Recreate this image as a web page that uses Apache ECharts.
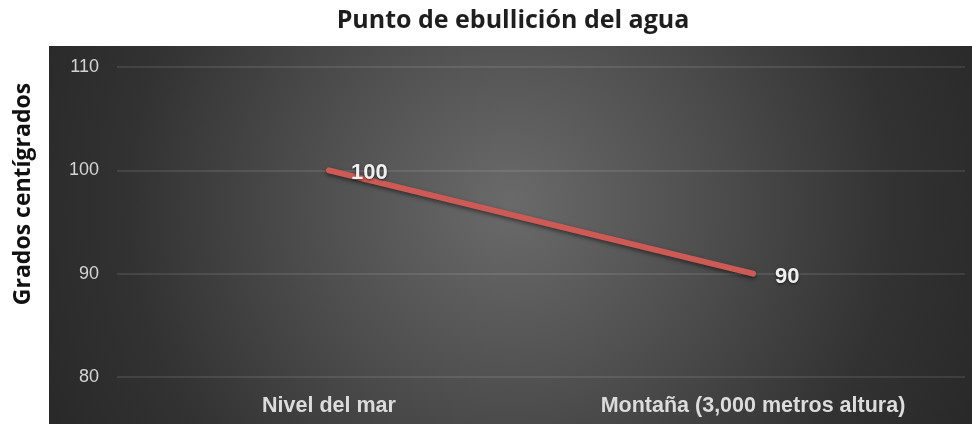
<!DOCTYPE html>
<html>
<head>
<meta charset="utf-8">
<script src="https://cdn.jsdelivr.net/npm/echarts@6/dist/echarts.min.js"></script>
<style>html,body{margin:0;padding:0;background:#fff;}#c{width:972px;height:424px;}</style>
</head>
<body>
<div id="c"></div>
<script>
const categories = ['Nivel del mar', 'Montaña (3,000 metros altura)'];
const boilingPoint = [100, 90];
const yTicks = [80, 90, 100, 110];
const chartTitle = 'Punto de ebullición del agua';
const yAxisTitle = 'Grados centígrados';

const chart = echarts.init(document.getElementById('c'), null, {renderer: 'canvas'});
chart.setOption({
  animation: false,
  backgroundColor: '#ffffff',
  title: {
    text: chartTitle,
    left: 508, top: 3, textAlign: 'center',
    textStyle: {fontFamily: 'Open Sans', fontWeight: 'bold', fontSize: 25, color: '#1e1e1e'}
  },
  graphic: [
    {
      type: 'rect', z: -10, silent: true,
      shape: {x: 49, y: 46, width: 923, height: 378},
      style: {
        fill: new echarts.graphic.RadialGradient(0.5, 0.42, 1.45, [
          {offset: 0, color: '#6a6a6a'},
          {offset: 0.35, color: '#4f4f4f'},
          {offset: 0.7, color: '#323232'},
          {offset: 1, color: '#262626'}
        ])
      }
    },
    {
      type: 'text', silent: true,
      x: 23, y: 194, rotation: Math.PI / 2,
      style: {
        text: yAxisTitle, fill: '#111',
        font: 'bold 23px "Open Sans"',
        align: 'center', verticalAlign: 'middle'
      }
    }
  ],
  grid: {left: 117, right: 7, top: 67, bottom: 47, containLabel: false},
  xAxis: {
    type: 'category', data: categories, boundaryGap: true,
    axisLine: {show: false}, axisTick: {show: false},
    axisLabel: {color: '#dcdcdc', fontFamily: 'Liberation Sans', fontWeight: 'bold', fontSize: 21.5, margin: 18}
  },
  yAxis: {
    type: 'value', min: yTicks[0], max: yTicks[yTicks.length - 1], interval: 10,
    axisLine: {show: false}, axisTick: {show: false},
    axisLabel: {color: '#d4d4d4', fontFamily: 'Liberation Sans', fontSize: 18, margin: 18, align: 'right'},
    splitLine: {lineStyle: {color: 'rgba(255,255,255,0.13)', width: 1.5}}
  },
  series: [{
    type: 'line', data: boilingPoint,
    showSymbol: true, symbol: 'circle', symbolSize: 0.1,
    itemStyle: {color: '#cd5a55'},
    lineStyle: {color: '#cd5a55', width: 6, cap: 'round', shadowColor: 'rgba(0,0,0,0.5)', shadowBlur: 4, shadowOffsetY: 2},
    label: {
      show: true, position: 'right', distance: 22, offset: [0, 3],
      color: '#f0f0f0', fontFamily: 'Liberation Sans', fontWeight: 'bold', fontSize: 22,
      textShadowColor: 'rgba(0,0,0,0.6)', textShadowBlur: 3, textShadowOffsetY: 1
    }
  }]
});
</script>
</body>
</html>
